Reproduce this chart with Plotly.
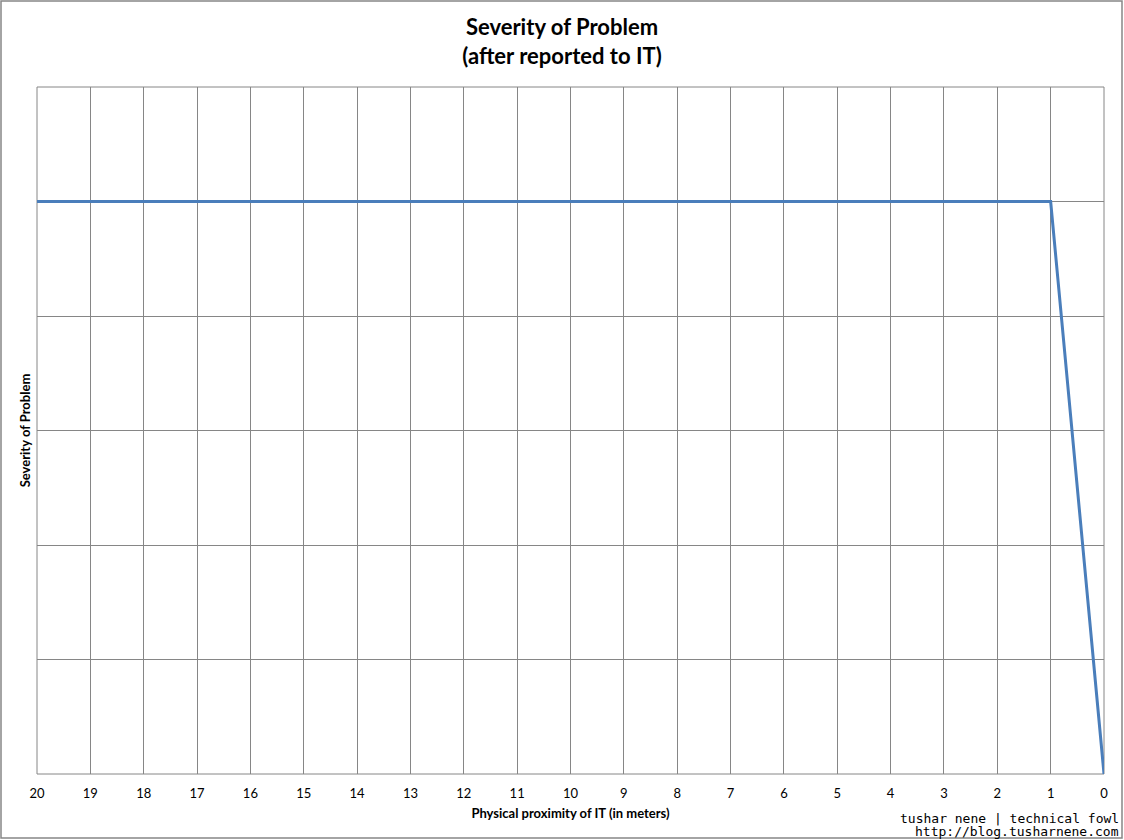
import plotly.graph_objects as go

distance = [20, 19, 18, 17, 16, 15, 14, 13, 12, 11, 10, 9, 8, 7, 6, 5, 4, 3, 2, 1, 0]
severity = [5, 5, 5, 5, 5, 5, 5, 5, 5, 5, 5, 5, 5, 5, 5, 5, 5, 5, 5, 5, 0]
tick_vals = distance
tick_text = [str(d) for d in distance]
credit_lines = ["tushar nene | technical fowl", "http://blog.tusharnene.com"]

W, H = 1124, 840
ML, MR, MT, MB = 37, 20, 87, 66
PW, PH = W - ML - MR, H - MT - MB

def px(x):
    return (x - ML) / PW

def py(y):
    return (H - MB - y) / PH

fig = go.Figure()
fig.add_trace(go.Scatter(
    x=distance, y=severity, mode="lines",
    line=dict(color="#4A7EBB", width=3),
    showlegend=False, hoverinfo="skip",
))

grid = "#868686"
annotations = []
for i, line in enumerate(credit_lines):
    annotations.append(dict(
        text=line, xref="paper", yref="paper", x=px(1121), y=py(818 + 13 * i),
        xanchor="right", yanchor="middle", align="right", showarrow=False,
        font=dict(family="DejaVu Sans Mono, Liberation Mono, monospace", size=13, color="#000000"),
    ))

fig.update_layout(
    width=W, height=H,
    margin=dict(l=ML, r=MR, t=MT, b=MB),
    paper_bgcolor="white", plot_bgcolor="white",
    font=dict(family="Lato, Open Sans, sans-serif", color="#000000"),
    title=dict(
        text="<b>Severity of Problem<br>(after reported to IT)</b>",
        x=0.5, xanchor="center", y=1 - 35 / H, yanchor="middle",
        font=dict(size=22, family="Lato, sans-serif", color="#000000"),
    ),
    xaxis=dict(
        range=[20, 0], tickmode="array", tickvals=tick_vals, ticktext=tick_text,
        showgrid=True, gridcolor=grid, gridwidth=1, zeroline=False,
        showline=False, ticks="", tickfont=dict(size=13, family="Lato, sans-serif"),
        ticklabelstandoff=10,
        title=dict(text="<b>Physical proximity of IT (in meters)</b>",
                   font=dict(size=13, family="Lato, sans-serif"), standoff=8),
    ),
    yaxis=dict(
        range=[0, 6], dtick=1, showticklabels=False,
        showgrid=True, gridcolor=grid, gridwidth=1, zeroline=False,
        showline=False, ticks="",
        title=dict(text="<b>Severity of Problem</b>",
                   font=dict(size=13, family="Lato, sans-serif"), standoff=2),
    ),
    shapes=[
        dict(type="rect", xref="paper", yref="paper",
             x0=px(1), x1=px(1122), y0=py(838), y1=py(1),
             line=dict(color="#868686", width=1.5), fillcolor="rgba(0,0,0,0)", layer="above"),
        dict(type="rect", xref="paper", yref="paper", x0=0, x1=1, y0=0, y1=1,
             line=dict(color=grid, width=1), fillcolor="rgba(0,0,0,0)", layer="below"),
    ],
    annotations=annotations,
)

fig.write_html(
    "out.html",
    config={"displayModeBar": False},
    post_script="document.body.style.margin='0';document.body.style.padding='0';document.body.style.overflow='hidden';",
)
